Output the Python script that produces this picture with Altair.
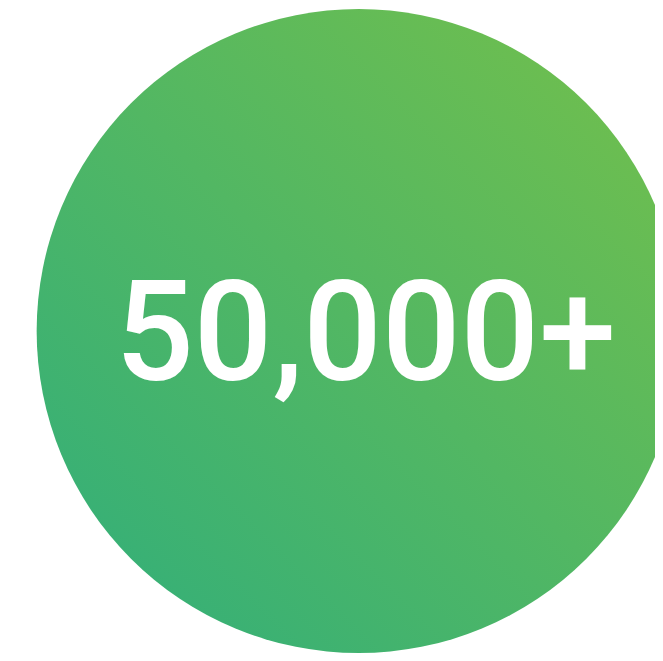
import altair as alt
import pandas as pd

labels = ["50,000+"]
values = [50000]

df = pd.DataFrame({"label": labels, "value": values})

grad = alt.Gradient(
    gradient="linear",
    stops=[
        alt.GradientStop(color="#2FAE7C", offset=0),
        alt.GradientStop(color="#75C04A", offset=1),
    ],
    x1=0, y1=1, x2=1, y2=0,
)

base = alt.Chart(df)

circle = base.mark_arc(outerRadius=326, innerRadius=0, fill=grad, stroke=None).encode(
    theta=alt.Theta("value:Q"),
    x=alt.value(355),
    y=alt.value(323),
)

text = base.mark_text(
    font="Roboto", fontSize=140, fontWeight=500, color="white", align="center",
    baseline="alphabetic"
).encode(
    text=alt.Text("label:N"),
    x=alt.value(362),
    y=alt.value(373),
)

chart = (circle + text).properties(
    width=655, height=653, padding=0, autosize=alt.AutoSizeParams(type="none"),
    background="white",
).configure_view(stroke=None)

chart.save("out.html", embed_options={"renderer": "svg", "actions": False})
